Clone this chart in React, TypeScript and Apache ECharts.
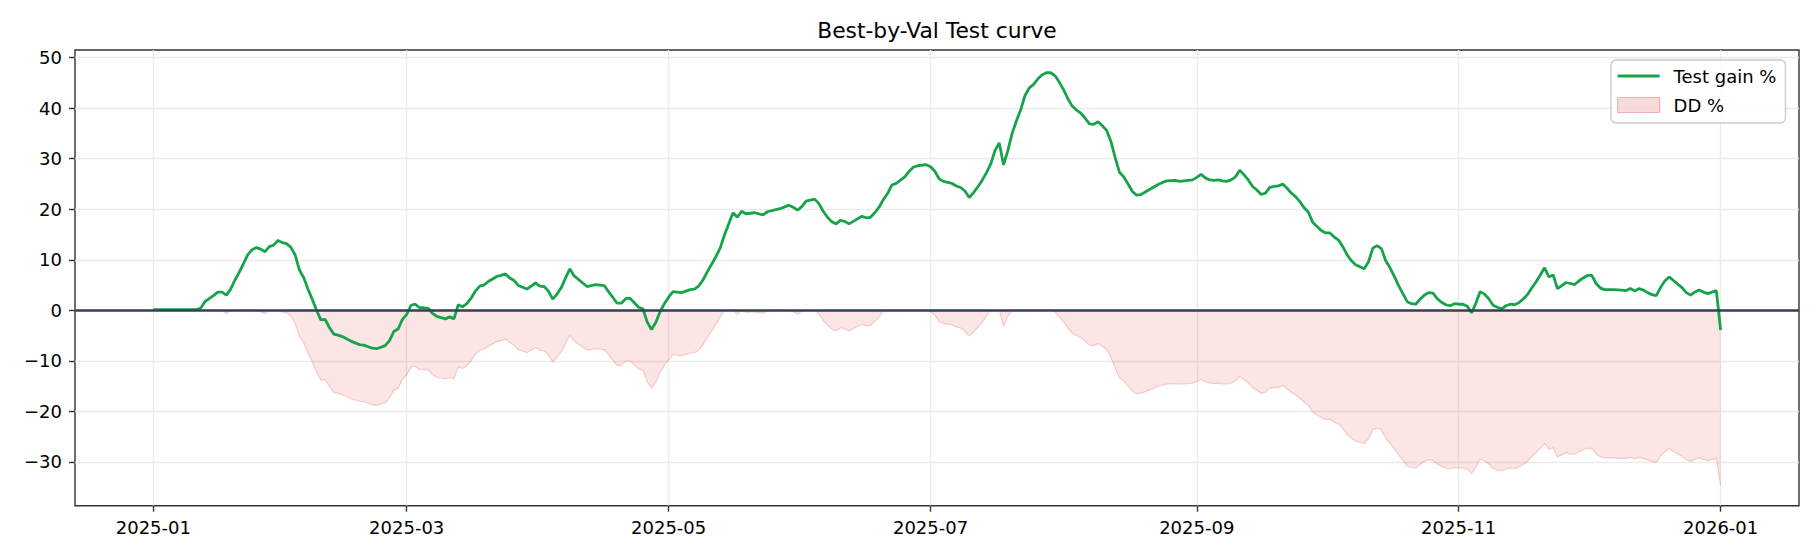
import React, { useEffect, useRef } from "react";
import * as echarts from "echarts";

// Day offsets from 2025-01-01
const days = [
  0, 10, 11, 12, 14, 15, 16, 17, 18, 19, 20, 22, 23, 24, 25, 26, 27, 28, 29, 30,
  31, 32, 33, 34, 35, 36, 37, 38, 39, 40, 41, 42, 43, 44, 46, 48, 49, 51, 52, 54,
  55, 56, 57, 58, 59, 60, 61, 62, 63, 64, 65, 66, 68, 69, 70, 71, 72, 73, 74, 75,
  76, 77, 78, 80, 81, 82, 83, 84, 85, 87, 88, 89, 90, 91, 92, 93, 94, 95, 96, 97,
  98, 100, 101, 103, 105, 106, 108, 109, 110, 111, 112, 113, 114, 115, 116, 117, 118, 119, 120, 121,
  123, 125, 126, 127, 128, 129, 131, 132, 133, 134, 135, 136, 137, 138, 140, 142, 143, 145, 146, 148,
  149, 150, 151, 152, 153, 154, 155, 156, 157, 158, 159, 160, 161, 162, 163, 165, 166, 167, 168, 169,
  170, 171, 172, 173, 175, 176, 177, 178, 180, 181, 182, 183, 184, 186, 187, 188, 189, 190, 191, 192,
  193, 194, 195, 196, 197, 198, 199, 200, 201, 202, 203, 204, 205, 206, 207, 208, 209, 210, 211, 212,
  213, 214, 215, 216, 217, 218, 219, 220, 221, 222, 223, 224, 225, 226, 227, 228, 229, 230, 231, 232,
  233, 234, 235, 236, 238, 239, 241, 242, 243, 244, 245, 246, 247, 248, 249, 250, 251, 252, 253, 254,
  255, 256, 257, 258, 259, 260, 261, 262, 263, 264, 265, 266, 267, 268, 269, 270, 271, 272, 273, 274,
  275, 276, 277, 278, 279, 280, 281, 282, 283, 284, 285, 286, 287, 288, 289, 290, 291, 292, 293, 294,
  295, 296, 297, 298, 299, 300, 301, 302, 303, 304, 305, 306, 307, 308, 309, 310, 311, 312, 313, 314,
  315, 316, 317, 318, 319, 320, 321, 322, 323, 324, 325, 326, 327, 328, 329, 330, 331, 332, 333, 334,
  335, 336, 337, 338, 340, 342, 343, 344, 345, 346, 347, 348, 349, 350, 351, 352, 353, 354, 355, 356,
  357, 358, 359, 360, 361, 362, 363, 364, 365,
];

const gainValues = [
  0.15, 0.15, 0.4, 1.7, 2.9, 3.6, 3.6, 3.0, 4.2, 6.0, 7.5, 11.0, 12.0, 12.4, 12.1, 11.6, 12.6, 12.9, 13.8, 13.4,
  13.2, 12.5, 11.0, 8.0, 6.5, 4.2, 2.2, 0.0, -1.9, -1.8, -3.4, -4.7, -4.9, -5.2, -6.1, -6.8, -6.9, -7.5, -7.6, -7.0,
  -6.0, -4.2, -3.7, -1.8, -0.8, 1.0, 1.2, 0.5, 0.5, 0.4, -0.6, -1.2, -1.7, -1.3, -1.7, 1.1, 0.7, 1.3, 2.4, 3.8,
  4.8, 5.0, 5.7, 6.7, 6.9, 7.2, 6.4, 5.9, 4.9, 4.2, 4.8, 5.4, 4.8, 4.7, 3.8, 2.2, 3.2, 4.5, 6.4, 8.2,
  6.8, 5.4, 4.7, 5.1, 4.9, 3.7, 1.4, 1.4, 2.3, 2.4, 1.5, 0.6, 0.3, -2.3, -3.8, -2.4, -0.3, 1.3, 2.6, 3.7,
  3.5, 4.1, 4.2, 4.8, 6.0, 7.6, 10.6, 12.3, 14.9, 17.1, 19.3, 18.4, 19.6, 19.1, 19.3, 18.9, 19.5, 19.9, 20.1, 20.8,
  20.4, 19.8, 20.5, 21.6, 21.8, 22.0, 21.1, 19.6, 18.4, 17.5, 17.1, 17.8, 17.6, 17.1, 17.6, 18.6, 18.3, 18.4, 19.3, 20.4,
  21.9, 23.1, 24.8, 25.1, 26.4, 27.5, 28.3, 28.6, 28.8, 28.4, 27.5, 26.0, 25.5, 25.1, 24.6, 24.3, 23.6, 22.3, 23.3, 24.4,
  25.7, 27.2, 28.9, 31.6, 33.1, 28.8, 31.6, 35.0, 37.5, 39.7, 42.5, 44.0, 44.7, 45.8, 46.6, 47.0, 47.0, 46.4, 45.1, 43.6,
  41.8, 40.4, 39.6, 39.0, 38.0, 36.9, 36.8, 37.3, 36.5, 35.6, 33.4, 30.2, 27.3, 26.4, 25.0, 23.5, 22.8, 22.9, 23.4, 23.9,
  24.4, 24.9, 25.3, 25.6, 25.7, 25.5, 25.7, 25.8, 26.3, 26.9, 26.2, 25.8, 25.7, 25.8, 25.6, 25.5, 25.8, 26.4, 27.7, 26.8,
  25.8, 24.5, 23.8, 22.9, 23.2, 24.3, 24.5, 24.6, 25.0, 24.2, 23.2, 22.5, 21.5, 20.3, 19.4, 17.4, 16.6, 15.8, 15.3, 15.3,
  14.5, 13.9, 12.6, 11.0, 9.8, 9.0, 8.6, 8.2, 9.6, 12.3, 12.8, 12.2, 9.8, 8.4, 6.7, 4.9, 3.3, 1.7, 1.3, 1.2,
  2.2, 3.0, 3.5, 3.4, 2.3, 1.6, 1.1, 0.9, 1.3, 1.2, 1.2, 0.8, -0.5, 1.4, 3.7, 3.2, 2.3, 1.0, 0.6, 0.3,
  0.9, 1.2, 1.1, 1.5, 2.2, 3.1, 4.4, 5.6, 7.0, 8.4, 6.6, 7.0, 4.3, 4.9, 5.5, 5.3, 5.1, 5.8, 6.4, 6.9,
  6.9, 5.3, 4.4, 4.1, 4.1, 4.0, 3.9, 4.3, 3.8, 4.3, 4.0, 3.5, 3.1, 2.9, 4.5, 5.8, 6.6, 5.9, 5.2, 4.5,
  3.5, 3.0, 3.6, 4.0, 3.6, 3.3, 3.6, 3.9, -3.9,
];

const ddValues = [
  0, 0, 0, 0, 0, 0, 0, -0.7, 0, 0, 0, 0, 0, 0, -0.3, -0.7, 0, 0, 0, -0.3,
  -0.5, -1.2, -2.5, -5.1, -6.4, -8.4, -10.2, -12.1, -13.8, -13.7, -15.1, -16.3, -16.4, -16.7, -17.5, -18.0, -18.1, -18.7, -18.8, -18.3,
  -17.3, -15.8, -15.4, -13.7, -12.8, -11.2, -11.1, -11.7, -11.7, -11.8, -12.7, -13.2, -13.6, -13.3, -13.6, -11.2, -11.5, -11.0, -10.0, -8.7,
  -7.9, -7.7, -7.1, -6.2, -6.0, -5.7, -6.4, -6.9, -7.8, -8.4, -7.9, -7.3, -7.9, -8.0, -8.8, -10.2, -9.3, -8.2, -6.5, -4.9,
  -6.1, -7.3, -7.9, -7.6, -7.8, -8.8, -10.9, -10.9, -10.1, -10.0, -10.8, -11.6, -11.8, -14.1, -15.4, -14.2, -12.3, -10.9, -9.8, -8.8,
  -9.0, -8.5, -8.4, -7.9, -6.8, -5.4, -2.8, -1.3, 0, 0, 0, -0.8, 0, -0.4, -0.3, -0.6, -0.1, 0, 0, 0,
  -0.3, -0.8, -0.2, 0, 0, 0, -0.7, -2.0, -3.0, -3.7, -4.1, -3.5, -3.6, -4.1, -3.6, -2.8, -3.1, -3.0, -2.2, -1.3,
  -0.1, 0, 0, 0, 0, 0, 0, 0, 0, -0.3, -1.0, -2.2, -2.6, -2.9, -3.3, -3.5, -4.1, -5.1, -4.3, -3.4,
  -2.4, -1.2, 0, 0, 0, -3.2, -1.1, 0, 0, 0, 0, 0, 0, 0, 0, 0, 0, -0.4, -1.3, -2.3,
  -3.5, -4.5, -5.0, -5.4, -6.1, -6.9, -7.0, -6.6, -7.1, -7.8, -9.3, -11.4, -13.4, -14.0, -15.0, -16.0, -16.5, -16.4, -16.1, -15.7,
  -15.4, -15.0, -14.8, -14.6, -14.5, -14.6, -14.5, -14.4, -14.1, -13.7, -14.1, -14.4, -14.5, -14.4, -14.6, -14.6, -14.4, -14.0, -13.1, -13.7,
  -14.4, -15.3, -15.8, -16.4, -16.2, -15.4, -15.3, -15.2, -14.9, -15.5, -16.2, -16.7, -17.4, -18.2, -18.8, -20.1, -20.7, -21.2, -21.6, -21.6,
  -22.1, -22.5, -23.4, -24.5, -25.3, -25.9, -26.1, -26.4, -25.4, -23.6, -23.3, -23.7, -25.3, -26.3, -27.4, -28.6, -29.7, -30.8, -31.1, -31.2,
  -30.5, -29.9, -29.6, -29.7, -30.4, -30.9, -31.2, -31.4, -31.1, -31.2, -31.2, -31.4, -32.3, -31.0, -29.4, -29.8, -30.4, -31.3, -31.6, -31.8,
  -31.4, -31.2, -31.3, -31.0, -30.5, -29.9, -29.0, -28.2, -27.2, -26.3, -27.5, -27.2, -29.0, -28.6, -28.2, -28.4, -28.5, -28.0, -27.6, -27.3,
  -27.3, -28.4, -29.0, -29.2, -29.2, -29.3, -29.3, -29.1, -29.4, -29.1, -29.3, -29.6, -29.9, -30.1, -28.9, -28.0, -27.4, -27.9, -28.4, -28.9,
  -29.6, -29.9, -29.5, -29.2, -29.5, -29.7, -29.5, -29.3, -34.7,
];

const xTickDates = ["2025-01-01", "2025-03-01", "2025-05-01", "2025-07-01", "2025-09-01", "2025-11-01", "2026-01-01"];
const xTickLabels = ["2025-01", "2025-03", "2025-05", "2025-07", "2025-09", "2025-11", "2026-01"];
const yTickValues = [-30, -20, -10, 0, 10, 20, 30, 40, 50];

const DAY = 86400000;
const T0 = Date.UTC(2025, 0, 1);
const FONT = "DejaVu Sans";
const GREEN = "#16a34a";

export default function App() {
  const ref = useRef<HTMLDivElement>(null);

  useEffect(() => {
    if (!ref.current) return;
    const chart = echarts.init(ref.current, null, { renderer: "svg" });
    const toTs = (d: number) => T0 + d * DAY;
    const gainData = days.map((d, i) => [toTs(d), gainValues[i]]);
    const ddData = days.map((d, i) => [toTs(d), ddValues[i]]);
    const xTickTs = xTickDates.map((s) => Date.parse(s + "T00:00:00Z"));
    const axisColor = "#333333";
    const gridColor = "#ebebeb";

    chart.setOption({
      animation: false,
      textStyle: { fontFamily: FONT },
      graphic: [
        {
          type: "text",
          x: 937,
          y: 30.7,
          style: {
            text: "Best-by-Val Test curve",
            fontFamily: FONT,
            fontSize: 21.8,
            fill: "#000",
            align: "center",
            verticalAlign: "middle",
            textAlign: "center",
            textVerticalAlign: "middle",
          },
        },
      ],
      grid: {
        left: 75,
        right: 21,
        top: 50,
        bottom: 54.3,
        show: true,
        borderColor: axisColor,
        borderWidth: 1.4,
        backgroundColor: "transparent",
        containLabel: false,
      },
      legend: {
        left: 1611,
        top: 60,
        orient: "vertical",
        padding: [7, 9, 9, 6],
        itemGap: 11,
        itemWidth: 42,
        itemHeight: 15,
        symbolKeepAspect: true,
        backgroundColor: "rgba(255,255,255,0.8)",
        borderColor: "#cccccc",
        borderWidth: 1.4,
        borderRadius: 5,
        textStyle: { fontFamily: FONT, fontSize: 18, color: "#000", padding: [0, 0, 0, 9] },
        data: [
          {
            name: "Test gain %",
            icon: "path://M0,0H42V2.8H0Z",
            itemStyle: { color: GREEN, borderWidth: 0 },
          },
          {
            name: "DD %",
            icon: "rect",
            itemStyle: { color: "rgba(220,38,38,0.17)", borderColor: "rgba(220,38,38,0.3)", borderWidth: 1.2 },
          },
        ],
      },
      xAxis: {
        type: "value",
        min: T0 - 18.25 * DAY,
        max: T0 + 383.25 * DAY,
        axisLine: { show: false, onZero: false },
        axisTick: { show: true, length: 6, lineStyle: { color: axisColor, width: 1.4 }, customValues: xTickTs },
        axisLabel: {
          customValues: xTickTs,
          margin: 13,
          fontFamily: FONT,
          fontSize: 18,
          color: "#000",
          formatter: (v: number) => {
            let best = 0;
            for (let i = 1; i < xTickTs.length; i++) {
              if (Math.abs(xTickTs[i] - v) < Math.abs(xTickTs[best] - v)) best = i;
            }
            return Math.abs(xTickTs[best] - v) < DAY ? xTickLabels[best] : "";
          },
        },
        splitLine: { show: true, lineStyle: { color: gridColor, width: 1.3 } },
      },
      yAxis: {
        type: "value",
        min: -38.66,
        max: 51.5,
        splitNumber: 9,
        axisLine: { show: false, onZero: false },
        axisTick: { show: true, length: 6, lineStyle: { color: axisColor, width: 1.4 }, customValues: yTickValues },
        axisLabel: {
          customValues: yTickValues,
          margin: 13,
          fontFamily: FONT,
          fontSize: 18,
          color: "#000",
          formatter: (v: number) => (v < 0 ? "\u2212" + Math.abs(v) : String(v)),
        },
        splitLine: { show: true, lineStyle: { color: gridColor, width: 1.3 } },
      },
      series: [
        {
          name: "DD %",
          type: "line",
          data: ddData,
          symbol: "none",
          showSymbol: false,
          z: 2,
          color: "rgba(220,38,38,0.3)",
          lineStyle: { color: "rgba(220,38,38,0.2)", width: 1.2 },
          areaStyle: { color: "rgba(220,38,38,0.17)", origin: "auto" },
        },
        {
          name: "Test gain %",
          type: "line",
          data: gainData,
          symbol: "none",
          showSymbol: false,
          z: 3,
          color: GREEN,
          lineStyle: { color: GREEN, width: 2.8 },
          markLine: {
            silent: true,
            symbol: ["none", "none"],
            label: { show: false },
            z: 5,
            lineStyle: { color: "#334155", width: 2.7, type: "solid" },
            emphasis: { disabled: true },
            data: [{ yAxis: 0 }],
          },
        },
      ],
    });

    return () => {
      chart.dispose();
    };
  }, []);

  return (
    <div
      ref={ref}
      style={{ position: "fixed", left: 0, top: 0, width: 1820, height: 560, background: "#fff" }}
    />
  );
}
